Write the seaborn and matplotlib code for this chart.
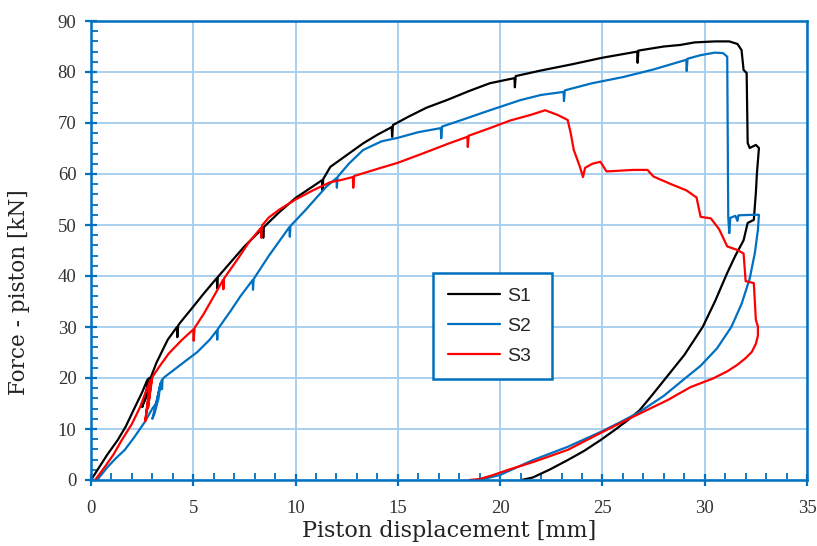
"""Force vs piston displacement, specimens S1-S3"""

import numpy as np
import pandas as pd
import matplotlib
matplotlib.use('Agg')
import matplotlib.pyplot as plt
from matplotlib.ticker import MultipleLocator
import seaborn as sns

# S1 (black) - loading with small loops, serrations, then unloading
s1_x = [0, 0.4, 0.8, 1.3, 1.7, 2.15, 2.5, 2.75, 2.85, 2.7, 2.55, 2.5, 2.65, 2.8, 2.9, 2.75,
        2.62, 2.8, 2.95, 3.2, 3.75, 4.2, 4.22, 4.26, 4.35, 5.0, 5.5, 6.15, 6.17, 6.2, 7.0, 7.5,
        8.4, 8.42, 8.45, 9.2, 10.0, 11.3, 11.32, 11.35, 11.7, 12.5, 13.3, 14.0, 14.7, 14.72,
        14.76, 15.5, 16.4, 17.4, 18.5, 19.5, 20.7, 20.72, 20.76, 22.0, 23.5, 25.0, 26.7, 26.72,
        26.76, 28.0, 28.8, 29.5, 30.5, 31.2, 31.6, 31.8, 31.9, 32.05, 32.1, 32.2, 32.5, 32.65,
        32.55, 32.5, 32.4, 32.1, 31.9, 31.5, 31.1, 30.5, 29.9, 29.0, 28.1, 27.4, 26.8, 26.2,
        25.6, 24.9, 24.1, 23.3, 22.4, 21.6, 21.05]
s1_y = [0, 2.5, 5.0, 7.8, 10.5, 14.3, 17.2, 19.6, 20.0, 17.5, 15.0, 14.3, 16.0, 18.8, 20.1, 17.0,
        15.5, 18.5, 20.4, 23.0, 27.5, 30.0, 28.0, 30.3, 30.8, 34.0, 36.5, 39.6, 37.6, 39.8, 43.5, 45.8,
        49.4, 47.5, 49.6, 52.5, 55.3, 58.8, 56.8, 59.0, 61.4, 63.7, 66.0, 67.7, 69.2, 67.3,
        69.6, 71.2, 73.0, 74.5, 76.3, 77.8, 78.8, 77.0, 79.2, 80.3, 81.5, 82.8, 84.0, 81.8,
        84.2, 85.0, 85.3, 85.8, 86.0, 86.0, 85.5, 84.3, 80.4, 79.8, 66.1, 65.1, 65.7, 65.1,
        60.0, 56.3, 51.0, 50.4, 47.0, 44.0, 40.6, 35.0, 30.0, 24.5, 20.0, 16.5, 13.6, 11.6,
        9.8, 7.8, 5.7, 3.9, 2.0, 0.5, 0]

# S2 (blue)
s2_x = [0.3, 0.8, 1.2, 1.65, 2.1, 2.6, 3.0, 3.2, 3.35, 3.4, 3.3, 3.1, 3.0, 3.15, 3.35, 3.45,
        3.47, 3.5, 3.6, 4.25, 5.2, 5.5, 5.8, 6.15, 6.17, 6.2, 6.8, 7.3, 7.9, 7.92, 7.95, 8.7,
        9.7, 9.72, 9.75, 10.5, 11.5, 12.0, 12.02, 12.05, 12.6, 13.3, 14.2, 15.0, 16.0, 17.1,
        17.12, 17.16, 18.2, 19.5, 21.0, 22.0, 23.1, 23.12, 23.16, 24.5, 26.0, 27.5, 29.1, 29.12,
        29.16, 29.8, 30.5, 30.9, 31.1, 31.15, 31.2, 31.25, 31.5, 31.6, 31.65, 32.4, 32.65, 32.6,
        32.45, 32.2, 31.8, 31.3, 30.6, 29.8, 29.0, 28.0, 26.8, 25.8, 24.9, 23.3, 21.6, 20.0, 19.0]
s2_y = [0, 2.5, 4.2, 5.9, 8.3, 11.2, 14.0, 15.1, 18.0, 19.0, 16.0, 13.0, 12.0, 14.5, 18.0, 19.5,
        17.8, 19.8, 20.2, 22.2, 25.1, 26.3, 27.5, 29.3, 27.5, 29.6, 33.0, 36.0, 39.2, 37.3, 39.4, 44.0,
        49.6, 47.7, 49.8, 53.0, 57.5, 59.2, 57.3, 59.4, 62.0, 64.7, 66.4, 67.1, 68.2, 69.0,
        67.0, 69.3, 70.7, 72.5, 74.5, 75.5, 76.1, 74.3, 76.4, 77.8, 79.0, 80.5, 82.4, 80.2,
        82.6, 83.3, 83.8, 83.7, 83.0, 51.6, 48.4, 51.4, 51.8, 50.8, 51.9, 52.0, 52.0, 49.0,
        44.5, 39.5, 34.5, 30.0, 25.8, 22.4, 19.8, 16.5, 13.3, 11.2, 9.4, 6.5, 3.9, 1.0, 0]

# S3 (red)
s3_x = [0.2, 0.7, 1.1, 1.5, 2.0, 2.4, 2.7, 2.9, 2.8, 2.7, 2.65, 2.75, 2.95, 2.85, 2.78, 2.9,
        3.0, 3.3, 3.8, 4.45, 5.0, 5.02, 5.06, 5.5, 6.0, 6.45, 6.47, 6.5, 7.2, 7.7, 8.3, 8.32,
        8.36, 8.7, 9.2, 10.0, 10.9, 11.7, 12.2, 12.8, 12.82, 12.86, 14.0, 15.0, 16.2, 17.5, 18.4,
        18.42, 18.46, 19.5, 20.5, 21.5, 22.2, 22.8, 23.3, 23.45, 23.6, 23.9, 24.05, 24.15, 24.5,
        24.9, 25.2, 26.5, 27.2, 27.5, 28.3, 29.1, 29.6, 29.8, 30.3, 30.7, 31.1, 31.6, 31.9,
        32.0, 32.4, 32.5, 32.6, 32.6, 32.5, 32.3, 32.0, 31.6, 31.1, 30.4, 29.3, 28.2, 26.5, 24.9,
        23.3, 21.6, 20.4, 19.6, 19.0, 18.5]
s3_y = [0, 2.7, 5.0, 7.8, 11.0, 14.3, 17.5, 19.6, 16.5, 13.0, 11.5, 14.5, 19.5, 16.0, 14.0, 17.5,
        20.2, 22.0, 24.8, 27.5, 29.5, 27.3, 29.8, 32.5, 36.0, 39.2, 37.4, 39.5, 43.5, 46.5, 49.4, 47.5,
        49.9, 51.5, 53.0, 55.0, 56.9, 58.4, 58.8, 59.4, 57.3, 59.6, 61.0, 62.2, 64.0, 66.0, 67.3,
        65.3, 67.5, 69.0, 70.5, 71.6, 72.5, 71.6, 70.6, 68.0, 64.7, 61.4, 59.4, 61.2, 62.0,
        62.4, 60.5, 60.8, 60.8, 59.5, 58.1, 56.8, 55.4, 51.6, 51.3, 49.2, 45.8, 45.1, 44.4,
        39.0, 38.6, 31.4, 30.1, 28.3, 26.7, 25.1, 23.9, 22.6, 21.3, 19.9, 18.2, 15.7, 12.4, 9.2,
        5.9, 3.5, 2.0, 0.9, 0.2, 0]

labels = ['S1', 'S2', 'S3']
palette = {'S1': '#000000', 'S2': '#0070C0', 'S3': '#FF0000'}

df = pd.concat([
    pd.DataFrame({'disp': s1_x, 'force': s1_y, 'specimen': 'S1'}),
    pd.DataFrame({'disp': s2_x, 'force': s2_y, 'specimen': 'S2'}),
    pd.DataFrame({'disp': s3_x, 'force': s3_y, 'specimen': 'S3'}),
], ignore_index=True)

sns.set_theme(style='white')
plt.rcParams['font.family'] = 'DejaVu Serif'

axis_blue = '#0070C0'
grid_blue = '#A4CDEE'

fig = plt.figure(figsize=(8.17, 5.46), dpi=100)
ax = fig.add_axes([91 / 817, 66 / 546, 716 / 817, 459 / 546])

sns.lineplot(data=df, x='disp', y='force', hue='specimen', units='specimen',
             estimator=None, sort=False, palette=palette, linewidth=1.6, ax=ax)

ax.set_xlim(0, 35)
ax.set_ylim(0, 90)
ax.xaxis.set_major_locator(MultipleLocator(5))
ax.xaxis.set_minor_locator(MultipleLocator(1))
ax.yaxis.set_major_locator(MultipleLocator(10))
ax.yaxis.set_minor_locator(MultipleLocator(2))

ax.grid(True, which='major', color=grid_blue, linewidth=1.3)
ax.set_axisbelow(True)
for side in ['left', 'bottom', 'top', 'right']:
    ax.spines[side].set_color(axis_blue)
    ax.spines[side].set_linewidth(1.8)

ax.tick_params(which='major', direction='inout', length=9, width=1.6, color=axis_blue,
               labelcolor='#333333')
ax.tick_params(which='minor', direction='in', length=5, width=1.3, color=axis_blue)
ax.tick_params(axis='x', which='both', bottom=True, top=False, pad=10)
ax.tick_params(axis='y', which='both', left=True, right=False, pad=6)
for lbl in ax.get_xticklabels() + ax.get_yticklabels():
    lbl.set_family('Liberation Serif')
    lbl.set_fontsize(13.5)

ax.set_xlabel('Piston displacement [mm]', fontsize=16, color='#222222', labelpad=2)
ax.set_ylabel('Force - piston [kN]', fontsize=15.5, color='#222222', labelpad=8)
ax.yaxis.set_label_coords(-0.085, 0.41)

# legend, Excel style box
handles, _ = ax.get_legend_handles_labels()
leg = ax.legend(handles, labels, loc='upper left', bbox_to_anchor=(0.478, 0.451, 0.166, 0.0),
                mode='expand', alignment='right', frameon=True, fancybox=False,
                framealpha=1, edgecolor=axis_blue, handlelength=2.7, handletextpad=0.35,
                labelspacing=0.62, borderpad=0.75, borderaxespad=0,
                prop={'family': 'Liberation Sans', 'size': 14})
leg.get_frame().set_linewidth(1.8)
for line in leg.get_lines():
    line.set_linewidth(1.6)

fig.savefig('out.png', dpi=100)
plt.close(fig)
